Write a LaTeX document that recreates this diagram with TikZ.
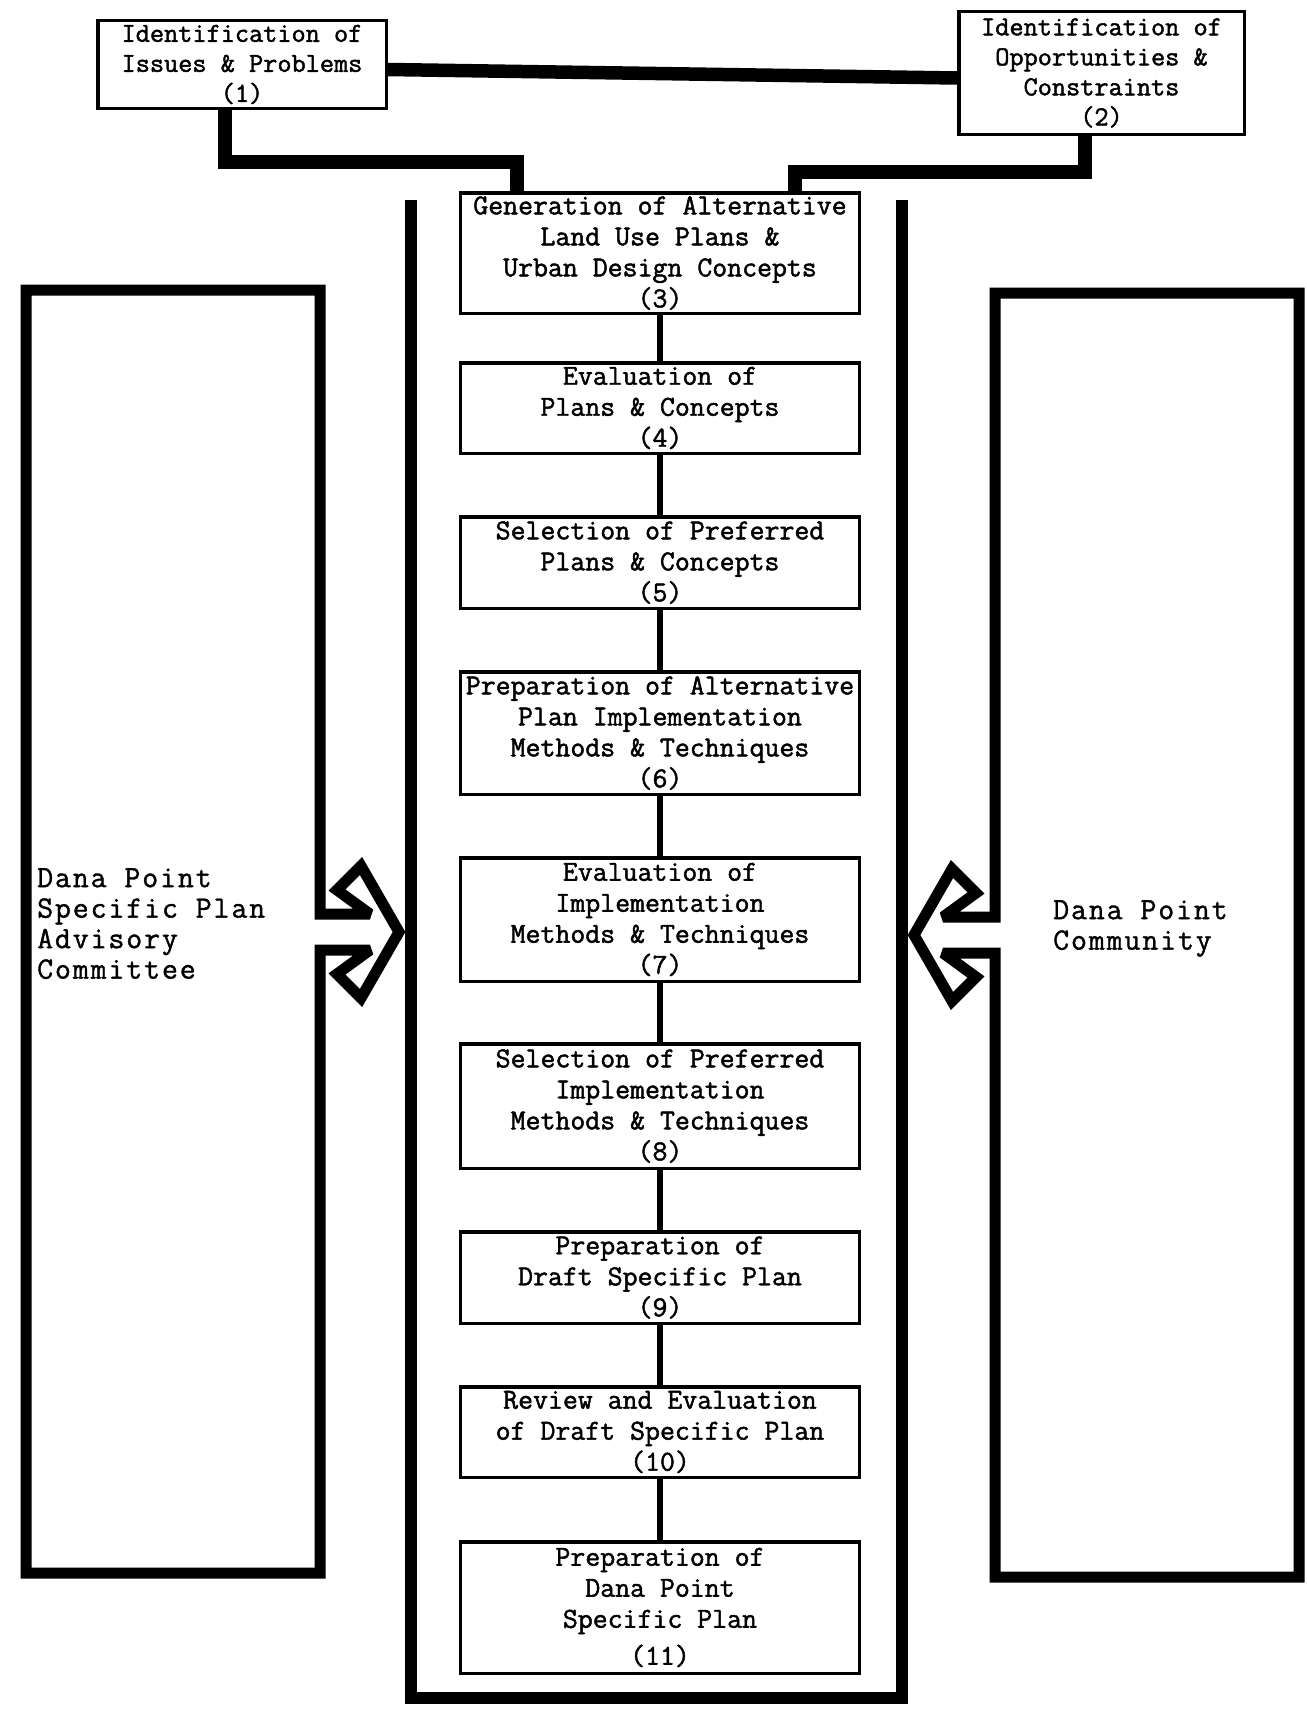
\documentclass[tikz,border=0pt]{standalone}
\usepackage{fontspec}
\newfontfamily\cfont{Latin Modern Mono}[FakeBold=1.6]
\newfontfamily\lfont{Latin Modern Mono}[FakeBold=1.2,LetterSpace=6]
\begin{document}
\begin{tikzpicture}[x=1pt,y=-1pt,
  cbox/.style={draw, line width=3.5pt, inner sep=0pt, align=center, minimum width=399pt,
    font=\cfont\fontsize{29}{31}\selectfont},
  tbox/.style={draw, line width=3.5pt, inner sep=0pt, align=center,
    font=\cfont\fontsize{27.5}{30}\selectfont},
  lbl/.style={inner sep=0pt, align=left, anchor=north west,
    font=\lfont\fontsize{31}{30.5}\selectfont},
  heavy/.style={line width=13.5pt, line join=miter},
  link/.style={line width=6.5pt},
  framepath/.style={line width=12pt, line join=miter},
  sidepath/.style={line width=11pt, line join=miter, miter limit=2.5}]
\useasboundingbox (0,0) rectangle (1306,1710);

% top boxes
\node[tbox, minimum width=288.5pt, minimum height=87.5pt] (b1) at (242,64.5)
  {Identification of\\Issues \& Problems\\(1)};
\node[tbox, minimum width=285.5pt, minimum height=122.5pt] (b2) at (1101.5,73)
  {Identification of\\Opportunities \&\\Constraints\\(2)};

% central boxes
\node[cbox, minimum height=120.5pt] (b3) at (660,253)
  {Generation of Alternative\\Land Use Plans \&\\Urban Design Concepts\\(3)};
\node[cbox, minimum height=90.5pt] (b4) at (660,408)
  {Evaluation of\\Plans \& Concepts\\(4)};
\node[cbox, minimum height=91.5pt] (b5) at (660,562.5)
  {Selection of Preferred\\Plans \& Concepts\\(5)};
\node[cbox, minimum height=122.5pt] (b6) at (660,733)
  {Preparation of Alternative\\Plan Implementation\\Methods \& Techniques\\(6)};
\node[cbox, minimum height=123.5pt] (b7) at (660,919.5)
  {Evaluation of\\Implementation\\Methods \& Techniques\\(7)};
\node[cbox, minimum height=124.5pt] (b8) at (660,1106)
  {Selection of Preferred\\Implementation\\Methods \& Techniques\\(8)};
\node[cbox, minimum height=91.5pt] (b9) at (660,1277.5)
  {Preparation of\\Draft Specific Plan\\(9)};
\node[cbox, minimum height=90.5pt] (b10) at (660,1432)
  {Review and Evaluation\\of Draft Specific Plan\\(10)};
\node[cbox, minimum height=131.5pt] (b11) at (660,1607.5)
  {Preparation of\\Dana Point\\Specific Plan\\[6pt](11)};

% links between central boxes
\draw[link] (b3) -- (b4);
\draw[link] (b4) -- (b5);
\draw[link] (b5) -- (b6);
\draw[link] (b6) -- (b7);
\draw[link] (b7) -- (b8);
\draw[link] (b8) -- (b9);
\draw[link] (b9) -- (b10);
\draw[link] (b10) -- (b11);

% heavy connectors at top
\coordinate (j1) at (225,162);
\coordinate (j2) at (517,162);
\coordinate (j3) at (1085,172);
\coordinate (j4) at (795,172);
\draw[heavy] ([yshift=-5pt]b1.east) -- ([yshift=-5pt]b2.west);
\draw[heavy] (b1.south -| j1) |- (j2) -- (b3.north -| j2);
\draw[heavy] (b2.south -| j3) |- (j4) -- (b3.north -| j4);

% central frame (open at top)
\draw[framepath] (411,200) -- (411,1698) -- (902,1698) -- (902,200);

% left side box with arrow
\draw[sidepath] (320,914) -- (320,290) -- (26,290) -- (26,1573) -- (320,1573) -- (320,950)
  -- (370,950) -- (337,974) -- (361,998) -- (399,932) -- (361,866) -- (337,890) -- (370,914) -- cycle;

% right side box with arrow
\draw[sidepath] (995,917) -- (995,293) -- (1299,293) -- (1299,1577) -- (995,1577) -- (995,953)
  -- (943,953) -- (976,977) -- (952,1001) -- (914,935) -- (952,869) -- (976,893) -- (943,917) -- cycle;

% labels
\node[lbl] (lA) at (37,868) {Dana Point\\Specific Plan\\Advisory\\Committee};
\node[lbl] (lB) at (1053,900) {Dana Point\\Community};
\end{tikzpicture}
\end{document}
